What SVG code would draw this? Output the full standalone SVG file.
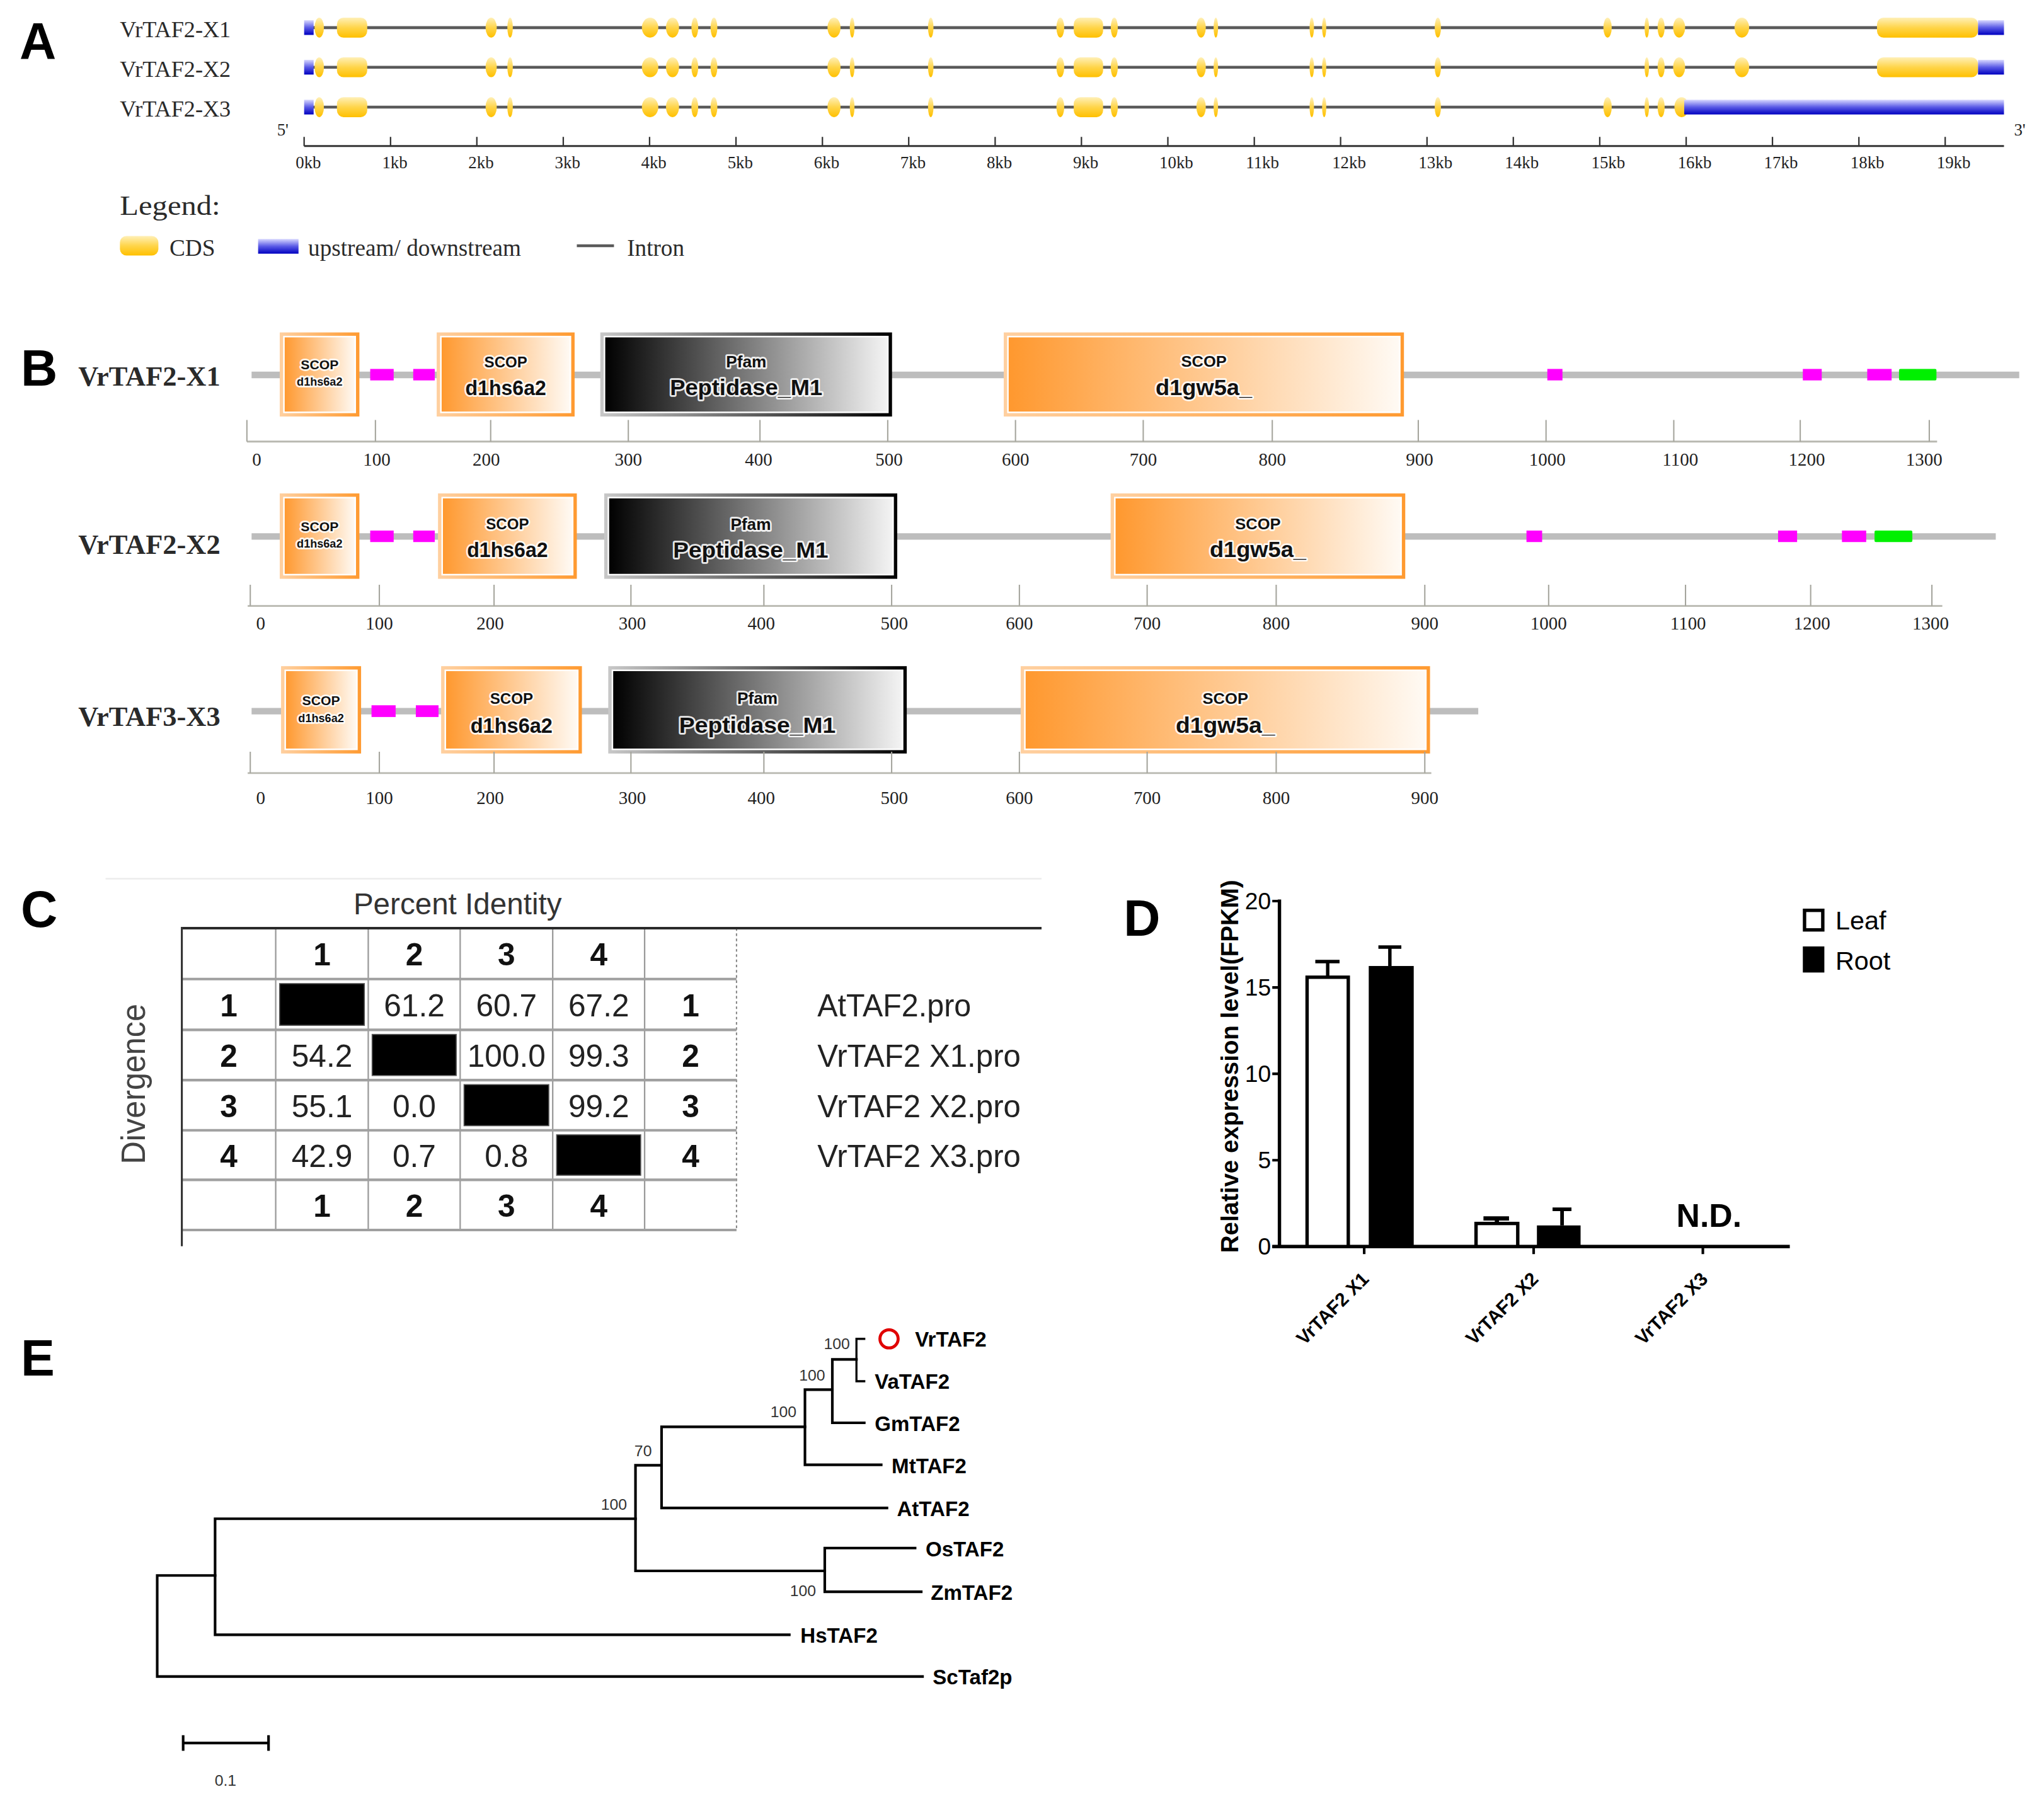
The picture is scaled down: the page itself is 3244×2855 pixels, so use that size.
<svg xmlns="http://www.w3.org/2000/svg" width="3244" height="2855" viewBox="0 0 3244 2855">
<style>
.plab{font-family:"Liberation Sans",Arial,sans-serif;font-weight:bold;font-size:39px;fill:#000;}
.tl{font-family:"Liberation Serif","Times New Roman",serif;fill:#2a2a2a;}
.sl{font-family:"Liberation Sans",Arial,sans-serif;}
.intron{stroke:#5a5a5a;stroke-width:2.2;fill:none;}
.ex{fill:url(#gy);}
.utr{fill:url(#gb);}
.axA{stroke:#333;fill:none;}
.kb{font-family:"Liberation Serif","Times New Roman",serif;font-size:13px;fill:#222;}
.pline{stroke:#bdbdbd;stroke-width:5;fill:none;}
.mg{fill:#ff00ff;}
.gr{fill:#00f000;}
.axB{stroke:#b8b8b0;stroke-width:1.4;fill:none;}
.tkB{stroke:#a5a59d;stroke-width:1;fill:none;}
.numB{font-family:"Liberation Serif","Times New Roman",serif;font-size:14px;fill:#222;text-anchor:middle;}
.dt{font-family:"Liberation Sans",Arial,sans-serif;font-weight:bold;fill:#111;text-anchor:middle;stroke:#fff;stroke-width:2.6;stroke-linejoin:round;paint-order:stroke;stroke-opacity:0.9;}
.gl{stroke:#9a9a9a;stroke-width:1.1;fill:none;}
.gh{stroke:#a0a0a0;stroke-width:2;fill:none;}
.cv{font-family:"Liberation Sans",Arial,sans-serif;font-size:24px;fill:#222;text-anchor:middle;}
.ci{font-family:"Liberation Sans",Arial,sans-serif;font-size:24px;font-weight:bold;fill:#111;text-anchor:middle;}
.cn{font-family:"Liberation Sans",Arial,sans-serif;font-size:24px;fill:#222;}
.blk{fill:#000;stroke:#555;stroke-width:0.8;}
.bk{stroke:#000;fill:none;}
.dl{font-family:"Liberation Sans",Arial,sans-serif;font-size:18px;fill:#000;text-anchor:end;}
.xl{font-family:"Liberation Sans",Arial,sans-serif;font-size:14.5px;font-weight:bold;fill:#000;text-anchor:end;}
.br{stroke:#000;fill:none;stroke-linecap:square;}
.leaf{font-family:"Liberation Sans",Arial,sans-serif;font-size:16px;font-weight:bold;fill:#000;}
.bs{font-family:"Liberation Sans",Arial,sans-serif;font-size:12px;fill:#333;}
</style>
<defs>
<linearGradient id="gy" x1="0" y1="0" x2="0" y2="1"><stop offset="0" stop-color="#fff0b8"/><stop offset="0.5" stop-color="#ffd54a"/><stop offset="1" stop-color="#ffc000"/></linearGradient>
<linearGradient id="gb" x1="0" y1="0" x2="0" y2="1"><stop offset="0" stop-color="#d8d8ff"/><stop offset="0.5" stop-color="#5a5ae6"/><stop offset="1" stop-color="#0000c0"/></linearGradient>
<linearGradient id="ofr" x1="0" y1="0" x2="1" y2="0"><stop offset="0" stop-color="#ffd0a0"/><stop offset="1" stop-color="#ff9a30"/></linearGradient>
<linearGradient id="ofi" x1="0" y1="0" x2="1" y2="0"><stop offset="0" stop-color="#ff982e"/><stop offset="1" stop-color="#fffaf4"/></linearGradient>
<linearGradient id="pfr" x1="0" y1="0" x2="1" y2="0"><stop offset="0" stop-color="#c8c8c8"/><stop offset="1" stop-color="#000"/></linearGradient>
<linearGradient id="pfi" x1="0" y1="0" x2="1" y2="0"><stop offset="0" stop-color="#000"/><stop offset="1" stop-color="#f4f4f4"/></linearGradient>
</defs>
<rect width="3244" height="2855" fill="#fff"/>
<g transform="scale(2.068878)">

<!-- ================= Panel A ================= -->
<g id="panelA">
<text class="plab" x="15" y="45">A</text>
<g id="A-labels" class="tl" font-size="17.5">
<text x="92" y="28.5">VrTAF2-X1</text>
<text x="92" y="59">VrTAF2-X2</text>
<text x="92" y="89.5">VrTAF2-X3</text>
</g>
<g id="A-X1">
<line class="intron" x1="240" y1="21.2" x2="1440" y2="21.2"/>
<rect class="utr" x="233.3" y="15.5" width="7.3" height="11.3"/>
<g class="ex">
<ellipse cx="244.9" cy="21.2" rx="3.6" ry="7.65"/>
<rect x="258.5" y="13.55" width="23.2" height="15.3" rx="5"/>
<ellipse cx="376.8" cy="21.2" rx="4.3" ry="7.65"/>
<ellipse cx="391.3" cy="21.2" rx="2.1" ry="7.65"/>
<ellipse cx="498.7" cy="21.2" rx="6.3" ry="7.65"/>
<ellipse cx="515.9" cy="21.2" rx="5" ry="7.65"/>
<ellipse cx="533" cy="21.2" rx="2.6" ry="7.65"/>
<ellipse cx="547.7" cy="21.2" rx="2.6" ry="7.65"/>
<ellipse cx="639.8" cy="21.2" rx="5" ry="7.65"/>
<ellipse cx="653.7" cy="21.2" rx="1.8" ry="7.65"/>
<ellipse cx="714" cy="21.2" rx="2.1" ry="7.65"/>
<ellipse cx="813.4" cy="21.2" rx="3" ry="7.65"/>
<rect x="823.7" y="13.55" width="22.5" height="15.3" rx="5"/>
<ellipse cx="854.8" cy="21.2" rx="2.7" ry="7.65"/>
<ellipse cx="921.4" cy="21.2" rx="3.6" ry="7.65"/>
<ellipse cx="932.7" cy="21.2" rx="1.7" ry="7.65"/>
<ellipse cx="1006.3" cy="21.2" rx="1.7" ry="7.65"/>
<ellipse cx="1015.8" cy="21.2" rx="1.6" ry="7.65"/>
<ellipse cx="1103" cy="21.2" rx="2.4" ry="7.65"/>
<ellipse cx="1233.2" cy="21.2" rx="3.2" ry="7.65"/>
<ellipse cx="1263.3" cy="21.2" rx="1.7" ry="7.65"/>
<ellipse cx="1274.3" cy="21.2" rx="2.7" ry="7.65"/>
<ellipse cx="1288.1" cy="21.2" rx="4.6" ry="7.65"/>
<ellipse cx="1336.2" cy="21.2" rx="5.6" ry="7.65"/>
<rect x="1439.9" y="13.55" width="77.5" height="15.3" rx="5"/>
</g>
<rect class="utr" x="1517.4" y="15.5" width="19.9" height="11.3"/>
</g>
<g id="A-X2">
<line class="intron" x1="240" y1="51.6" x2="1440" y2="51.6"/>
<rect class="utr" x="233.3" y="45.9" width="7.3" height="11.3"/>
<g class="ex">
<ellipse cx="244.9" cy="51.6" rx="3.6" ry="7.65"/>
<rect x="258.5" y="43.95" width="23.2" height="15.3" rx="5"/>
<ellipse cx="376.8" cy="51.6" rx="4.3" ry="7.65"/>
<ellipse cx="391.3" cy="51.6" rx="2.1" ry="7.65"/>
<ellipse cx="498.7" cy="51.6" rx="6.3" ry="7.65"/>
<ellipse cx="515.9" cy="51.6" rx="5" ry="7.65"/>
<ellipse cx="533" cy="51.6" rx="2.6" ry="7.65"/>
<ellipse cx="547.7" cy="51.6" rx="2.6" ry="7.65"/>
<ellipse cx="639.8" cy="51.6" rx="5" ry="7.65"/>
<ellipse cx="653.7" cy="51.6" rx="1.8" ry="7.65"/>
<ellipse cx="714" cy="51.6" rx="2.1" ry="7.65"/>
<ellipse cx="813.4" cy="51.6" rx="3" ry="7.65"/>
<rect x="823.7" y="43.95" width="22.5" height="15.3" rx="5"/>
<ellipse cx="854.8" cy="51.6" rx="2.7" ry="7.65"/>
<ellipse cx="921.4" cy="51.6" rx="3.6" ry="7.65"/>
<ellipse cx="932.7" cy="51.6" rx="1.7" ry="7.65"/>
<ellipse cx="1006.3" cy="51.6" rx="1.7" ry="7.65"/>
<ellipse cx="1015.8" cy="51.6" rx="1.6" ry="7.65"/>
<ellipse cx="1103" cy="51.6" rx="2.4" ry="7.65"/>
<ellipse cx="1263.3" cy="51.6" rx="1.7" ry="7.65"/>
<ellipse cx="1274.3" cy="51.6" rx="2.7" ry="7.65"/>
<ellipse cx="1288.1" cy="51.6" rx="4.6" ry="7.65"/>
<ellipse cx="1336.2" cy="51.6" rx="5.6" ry="7.65"/>
<rect x="1439.9" y="43.95" width="77.5" height="15.3" rx="5"/>
</g>
<rect class="utr" x="1517.4" y="45.9" width="19.9" height="11.3"/>
</g>
<g id="A-X3">
<line class="intron" x1="240" y1="82.2" x2="1286" y2="82.2"/>
<rect class="utr" x="233.3" y="76.5" width="7.3" height="11.3"/>
<g class="ex">
<ellipse cx="244.9" cy="82.2" rx="3.6" ry="7.65"/>
<rect x="258.5" y="74.55" width="23.2" height="15.3" rx="5"/>
<ellipse cx="376.8" cy="82.2" rx="4.3" ry="7.65"/>
<ellipse cx="391.3" cy="82.2" rx="2.1" ry="7.65"/>
<ellipse cx="498.7" cy="82.2" rx="6.3" ry="7.65"/>
<ellipse cx="515.9" cy="82.2" rx="5" ry="7.65"/>
<ellipse cx="533" cy="82.2" rx="2.6" ry="7.65"/>
<ellipse cx="547.7" cy="82.2" rx="2.6" ry="7.65"/>
<ellipse cx="639.8" cy="82.2" rx="5" ry="7.65"/>
<ellipse cx="653.7" cy="82.2" rx="1.8" ry="7.65"/>
<ellipse cx="714" cy="82.2" rx="2.1" ry="7.65"/>
<ellipse cx="813.4" cy="82.2" rx="3" ry="7.65"/>
<rect x="823.7" y="74.55" width="22.5" height="15.3" rx="5"/>
<ellipse cx="854.8" cy="82.2" rx="2.7" ry="7.65"/>
<ellipse cx="921.4" cy="82.2" rx="3.6" ry="7.65"/>
<ellipse cx="932.7" cy="82.2" rx="1.7" ry="7.65"/>
<ellipse cx="1006.3" cy="82.2" rx="1.7" ry="7.65"/>
<ellipse cx="1015.8" cy="82.2" rx="1.6" ry="7.65"/>
<ellipse cx="1103" cy="82.2" rx="2.4" ry="7.65"/>
<ellipse cx="1233.2" cy="82.2" rx="3.2" ry="7.65"/>
<ellipse cx="1263.3" cy="82.2" rx="1.7" ry="7.65"/>
<ellipse cx="1274.3" cy="82.2" rx="2.7" ry="7.65"/>
<ellipse cx="1290" cy="82.2" rx="5.5" ry="7.65"/>
</g>
<rect class="utr" x="1292" y="76.5" width="245.3" height="11.3"/>
</g>
<g id="A-axis">
<line class="axA" style="stroke-width:1.4" x1="233.3" y1="112" x2="1537.3" y2="112"/>
<path class="axA" style="stroke-width:1.1" d="M233.3 105V112M299.6 105V112M365.8 105V112M432.1 105V112M498.3 105V112M564.6 105V112M630.9 105V112M697.1 105V112M763.4 105V112M829.6 105V112M895.9 105V112M962.2 105V112M1028.4 105V112M1094.7 105V112M1160.9 105V112M1227.2 105V112M1293.5 105V112M1359.7 105V112M1426 105V112M1492.2 105V112"/>
<g class="kb">
<text x="226.8" y="129">0kb</text><text x="293.1" y="129">1kb</text><text x="359.3" y="129">2kb</text><text x="425.6" y="129">3kb</text><text x="491.8" y="129">4kb</text><text x="558.1" y="129">5kb</text><text x="624.4" y="129">6kb</text><text x="690.6" y="129">7kb</text><text x="756.9" y="129">8kb</text><text x="823.1" y="129">9kb</text><text x="889.4" y="129">10kb</text><text x="955.7" y="129">11kb</text><text x="1021.9" y="129">12kb</text><text x="1088.2" y="129">13kb</text><text x="1154.4" y="129">14kb</text><text x="1220.7" y="129">15kb</text><text x="1287" y="129">16kb</text><text x="1353.2" y="129">17kb</text><text x="1419.5" y="129">18kb</text><text x="1485.7" y="129">19kb</text>
</g>
<text class="kb" x="212.5" y="104">5'</text>
<text class="kb" x="1545" y="104">3'</text>
</g>
<g id="A-legend" class="tl">
<text x="92" y="165" font-size="21" textLength="77" lengthAdjust="spacingAndGlyphs">Legend:</text>
<rect class="ex" x="92" y="181" width="29.5" height="15" rx="5"/>
<text x="130" y="196" font-size="18">CDS</text>
<rect class="utr" x="198" y="183.3" width="31" height="11.3"/>
<text x="236.4" y="196" font-size="18">upstream/ downstream</text>
<line class="intron" x1="442.5" y1="188.5" x2="471" y2="188.5"/>
<text x="481" y="196" font-size="18">Intron</text>
</g>
</g>

<!-- ================= Panel B ================= -->
<g id="panelB">
<text class="plab" x="16" y="296">B</text>
<g id="B-labels" class="tl" font-size="21.5" font-weight="bold" fill="#000">
<text x="60" y="296">VrTAF2-X1</text>
<text x="60" y="425">VrTAF2-X2</text>
<text x="60" y="557">VrTAF3-X3</text>
</g>

<g id="B-X1">
<line class="pline" x1="193" y1="287.6" x2="1549" y2="287.6"/>
<g id="B1-scop1"><rect x="214.6" y="255" width="61.1" height="64.5" fill="url(#ofr)"/><rect x="217.8" y="258.2" width="54.7" height="58.1" fill="url(#ofi)" stroke="#fff" stroke-width="1.2"/>
<text class="dt" x="245.2" y="283.3" font-size="10" textLength="29" lengthAdjust="spacingAndGlyphs">SCOP</text><text class="dt" x="245.2" y="296" font-size="8.5" textLength="35" lengthAdjust="spacingAndGlyphs">d1hs6a2</text></g>
<rect class="mg" x="284" y="283" width="18" height="8.8"/>
<rect class="mg" x="317" y="283" width="16.5" height="8.8"/>
<g id="B1-scop2"><rect x="335" y="255" width="105.8" height="64.5" fill="url(#ofr)"/><rect x="338.2" y="258.2" width="99.4" height="58.1" fill="url(#ofi)" stroke="#fff" stroke-width="1.2"/>
<text class="dt" x="388" y="282" font-size="11.5" textLength="33" lengthAdjust="spacingAndGlyphs">SCOP</text><text class="dt" x="388" y="303" font-size="16" textLength="62" lengthAdjust="spacingAndGlyphs">d1hs6a2</text></g>
<g id="B1-pfam"><rect x="460.5" y="255" width="223.8" height="64.5" fill="url(#pfr)"/><rect x="463.7" y="258.2" width="217.4" height="58.1" fill="url(#pfi)" stroke="#fff" stroke-width="1.2"/>
<text class="dt" x="572.4" y="282" font-size="12.5" textLength="31" lengthAdjust="spacingAndGlyphs">Pfam</text><text class="dt" x="572.4" y="303" font-size="17" textLength="117" lengthAdjust="spacingAndGlyphs">Peptidase_M1</text></g>
<g id="B1-scop3"><rect x="770" y="255" width="307" height="64.5" fill="url(#ofr)"/><rect x="773.2" y="258.2" width="300.6" height="58.1" fill="url(#ofi)" stroke="#fff" stroke-width="1.2"/>
<text class="dt" x="923.5" y="281.5" font-size="12" textLength="35" lengthAdjust="spacingAndGlyphs">SCOP</text><text class="dt" x="923.5" y="303" font-size="17" textLength="74" lengthAdjust="spacingAndGlyphs">d1gw5a_</text></g>
<rect class="mg" x="1187" y="283" width="11.6" height="8.8"/>
<rect class="mg" x="1383" y="283" width="14.5" height="8.8"/>
<rect class="mg" x="1432.4" y="283" width="18.7" height="8.8"/>
<rect class="gr" x="1456.8" y="283" width="28.7" height="8.8" rx="1"/>
<g id="B1-axis">
<line class="axB" x1="189.4" y1="338.7" x2="1486" y2="338.7"/>
<path class="tkB" d="M189.4 322.2V338.7M288 322.2V338.7M376.4 322.2V338.7M482 322.2V338.7M583 322.2V338.7M681 322.2V338.7M779 322.2V338.7M877 322.2V338.7M976 322.2V338.7M1088 322.2V338.7M1186 322.2V338.7M1284 322.2V338.7M1381 322.2V338.7M1480 322.2V338.7"/>
<text class="numB" x="197" y="357">0</text><text class="numB" x="289" y="357">100</text><text class="numB" x="373" y="357">200</text><text class="numB" x="482" y="357">300</text><text class="numB" x="582" y="357">400</text><text class="numB" x="682" y="357">500</text><text class="numB" x="779" y="357">600</text><text class="numB" x="877" y="357">700</text><text class="numB" x="976" y="357">800</text><text class="numB" x="1089" y="357">900</text><text class="numB" x="1187" y="357">1000</text><text class="numB" x="1289" y="357">1100</text><text class="numB" x="1386" y="357">1200</text><text class="numB" x="1476" y="357">1300</text>
</g>
</g>

<g id="B-X2">
<line class="pline" x1="193" y1="411.5" x2="1531" y2="411.5"/>
<g id="B2-scop1"><rect x="214.6" y="378.5" width="61.1" height="65.5" fill="url(#ofr)"/><rect x="217.8" y="381.7" width="54.7" height="59.1" fill="url(#ofi)" stroke="#fff" stroke-width="1.2"/>
<text class="dt" x="245.2" y="407.5" font-size="10" textLength="29" lengthAdjust="spacingAndGlyphs">SCOP</text><text class="dt" x="245.2" y="420" font-size="8.5" textLength="35" lengthAdjust="spacingAndGlyphs">d1hs6a2</text></g>
<rect class="mg" x="284" y="407" width="18" height="8.8"/>
<rect class="mg" x="317" y="407" width="16.5" height="8.8"/>
<g id="B2-scop2"><rect x="336" y="378.5" width="106.5" height="65.5" fill="url(#ofr)"/><rect x="339.2" y="381.7" width="100.1" height="59.1" fill="url(#ofi)" stroke="#fff" stroke-width="1.2"/>
<text class="dt" x="389.3" y="406" font-size="11.5" textLength="33" lengthAdjust="spacingAndGlyphs">SCOP</text><text class="dt" x="389.3" y="427.5" font-size="16" textLength="62" lengthAdjust="spacingAndGlyphs">d1hs6a2</text></g>
<g id="B2-pfam"><rect x="463.5" y="378.5" width="224.8" height="65.5" fill="url(#pfr)"/><rect x="466.7" y="381.7" width="218.4" height="59.1" fill="url(#pfi)" stroke="#fff" stroke-width="1.2"/>
<text class="dt" x="575.9" y="406.5" font-size="12.5" textLength="31" lengthAdjust="spacingAndGlyphs">Pfam</text><text class="dt" x="575.9" y="428" font-size="17" textLength="119" lengthAdjust="spacingAndGlyphs">Peptidase_M1</text></g>
<g id="B2-scop3"><rect x="852" y="378.5" width="226" height="65.5" fill="url(#ofr)"/><rect x="855.2" y="381.7" width="219.6" height="59.1" fill="url(#ofi)" stroke="#fff" stroke-width="1.2"/>
<text class="dt" x="965" y="406" font-size="12" textLength="35" lengthAdjust="spacingAndGlyphs">SCOP</text><text class="dt" x="965" y="427.5" font-size="17" textLength="74" lengthAdjust="spacingAndGlyphs">d1gw5a_</text></g>
<rect class="mg" x="1171" y="407" width="12" height="8.8"/>
<rect class="mg" x="1364" y="407" width="14.6" height="8.8"/>
<rect class="mg" x="1413" y="407" width="18.6" height="8.8"/>
<rect class="gr" x="1438" y="407" width="29" height="8.8" rx="1"/>
<g id="B2-axis">
<line class="axB" x1="190" y1="464.8" x2="1490" y2="464.8"/>
<path class="tkB" d="M192 448.6V464.8M291 448.6V464.8M379 448.6V464.8M484 448.6V464.8M586 448.6V464.8M684 448.6V464.8M782 448.6V464.8M880 448.6V464.8M979 448.6V464.8M1093 448.6V464.8M1188 448.6V464.8M1293 448.6V464.8M1389 448.6V464.8M1482 448.6V464.8"/>
<text class="numB" x="200" y="483">0</text><text class="numB" x="291" y="483">100</text><text class="numB" x="376" y="483">200</text><text class="numB" x="485" y="483">300</text><text class="numB" x="584" y="483">400</text><text class="numB" x="686" y="483">500</text><text class="numB" x="782" y="483">600</text><text class="numB" x="880" y="483">700</text><text class="numB" x="979" y="483">800</text><text class="numB" x="1093" y="483">900</text><text class="numB" x="1188" y="483">1000</text><text class="numB" x="1295" y="483">1100</text><text class="numB" x="1390" y="483">1200</text><text class="numB" x="1481" y="483">1300</text>
</g>
</g>

<g id="B-X3">
<line class="pline" x1="193" y1="545.5" x2="1134" y2="545.5"/>
<g id="B3-scop1"><rect x="215.6" y="511" width="61.4" height="67" fill="url(#ofr)"/><rect x="218.8" y="514.2" width="55" height="60.6" fill="url(#ofi)" stroke="#fff" stroke-width="1.2"/>
<text class="dt" x="246.3" y="541" font-size="10" textLength="29" lengthAdjust="spacingAndGlyphs">SCOP</text><text class="dt" x="246.3" y="554" font-size="8.5" textLength="35" lengthAdjust="spacingAndGlyphs">d1hs6a2</text></g>
<rect class="mg" x="285" y="541" width="18.5" height="9"/>
<rect class="mg" x="319" y="541" width="17.4" height="9"/>
<g id="B3-scop2"><rect x="338.4" y="511" width="108" height="67" fill="url(#ofr)"/><rect x="341.6" y="514.2" width="101.6" height="60.6" fill="url(#ofi)" stroke="#fff" stroke-width="1.2"/>
<text class="dt" x="392.4" y="540" font-size="11.5" textLength="33" lengthAdjust="spacingAndGlyphs">SCOP</text><text class="dt" x="392.4" y="562" font-size="16" textLength="63" lengthAdjust="spacingAndGlyphs">d1hs6a2</text></g>
<g id="B3-pfam"><rect x="466.6" y="511" width="229" height="67" fill="url(#pfr)"/><rect x="469.8" y="514.2" width="222.6" height="60.6" fill="url(#pfi)" stroke="#fff" stroke-width="1.2"/>
<text class="dt" x="581" y="540" font-size="12.5" textLength="31" lengthAdjust="spacingAndGlyphs">Pfam</text><text class="dt" x="581" y="562" font-size="17" textLength="120" lengthAdjust="spacingAndGlyphs">Peptidase_M1</text></g>
<g id="B3-scop3"><rect x="783" y="511" width="314" height="67" fill="url(#ofr)"/><rect x="786.2" y="514.2" width="307.6" height="60.6" fill="url(#ofi)" stroke="#fff" stroke-width="1.2"/>
<text class="dt" x="940" y="540" font-size="12" textLength="35" lengthAdjust="spacingAndGlyphs">SCOP</text><text class="dt" x="940" y="562" font-size="17" textLength="76" lengthAdjust="spacingAndGlyphs">d1gw5a_</text></g>
<g id="B3-axis">
<line class="axB" x1="190" y1="593" x2="1098" y2="593"/>
<path class="tkB" d="M192 576.7V593M291 576.7V593M379 576.7V593M484 576.7V593M586 576.7V593M684 576.7V593M782 576.7V593M880 576.7V593M979 576.7V593M1093 576.7V593"/>
<text class="numB" x="200" y="617">0</text><text class="numB" x="291" y="617">100</text><text class="numB" x="376" y="617">200</text><text class="numB" x="485" y="617">300</text><text class="numB" x="584" y="617">400</text><text class="numB" x="686" y="617">500</text><text class="numB" x="782" y="617">600</text><text class="numB" x="880" y="617">700</text><text class="numB" x="979" y="617">800</text><text class="numB" x="1093" y="617">900</text>
</g>
</g>
</g>

<!-- ================= Panel C ================= -->
<g id="panelC">
<text class="plab" x="16" y="711">C</text>
<line x1="81" y1="674" x2="799" y2="674" stroke="#ececec" stroke-width="1.2"/>
<text class="sl" x="351" y="701.5" font-size="23" fill="#333" text-anchor="middle">Percent Identity</text>
<text class="sl" transform="translate(111,831.5) rotate(-90)" font-size="26" fill="#444" text-anchor="middle" textLength="123" lengthAdjust="spacingAndGlyphs">Divergence</text>
<g id="C-grid">
<path class="gl" d="M211.5 712V943.5M282.5 712V943.5M353 712V943.5M424 712V943.5M494.5 712V943.5"/>
<path d="M565 712V943.5" stroke="#888" stroke-width="1" stroke-dasharray="2 2" fill="none"/>
<path class="gh" d="M139.5 751H565M139.5 790H565M139.5 828.5H565M139.5 867H565M139.5 905H565M139.5 943.5H565"/>
<line x1="139" y1="712" x2="799" y2="712" stroke="#2a2a2a" stroke-width="2"/>
<line x1="139.5" y1="711" x2="139.5" y2="956" stroke="#333" stroke-width="1.5"/>
</g>
<rect class="blk" x="214.5" y="754.5" width="65" height="32"/>
<rect class="blk" x="285.5" y="793.5" width="64.5" height="31.5"/>
<rect class="blk" x="356" y="832" width="65" height="31.5"/>
<rect class="blk" x="427" y="870.5" width="64.5" height="31"/>
<g id="C-idx">
<text class="ci" x="247" y="740.5">1</text><text class="ci" x="317.8" y="740.5">2</text><text class="ci" x="388.5" y="740.5">3</text><text class="ci" x="459.3" y="740.5">4</text>
<text class="ci" x="175.5" y="779.5">1</text><text class="ci" x="175.5" y="818.3">2</text><text class="ci" x="175.5" y="856.8">3</text><text class="ci" x="175.5" y="895">4</text>
<text class="ci" x="529.8" y="779.5">1</text><text class="ci" x="529.8" y="818.3">2</text><text class="ci" x="529.8" y="856.8">3</text><text class="ci" x="529.8" y="895">4</text>
<text class="ci" x="247" y="933.3">1</text><text class="ci" x="317.8" y="933.3">2</text><text class="ci" x="388.5" y="933.3">3</text><text class="ci" x="459.3" y="933.3">4</text>
</g>
<g id="C-values">
<text class="cv" x="317.8" y="779.5">61.2</text><text class="cv" x="388.5" y="779.5">60.7</text><text class="cv" x="459.3" y="779.5">67.2</text>
<text class="cv" x="247" y="818.3">54.2</text><text class="cv" x="388.5" y="818.3">100.0</text><text class="cv" x="459.3" y="818.3">99.3</text>
<text class="cv" x="247" y="856.8">55.1</text><text class="cv" x="317.8" y="856.8">0.0</text><text class="cv" x="459.3" y="856.8">99.2</text>
<text class="cv" x="247" y="895">42.9</text><text class="cv" x="317.8" y="895">0.7</text><text class="cv" x="388.5" y="895">0.8</text>
</g>
<g id="C-names">
<text class="cn" x="627" y="779.5" textLength="118" lengthAdjust="spacingAndGlyphs">AtTAF2.pro</text>
<text class="cn" x="627" y="818.3" textLength="156" lengthAdjust="spacingAndGlyphs">VrTAF2 X1.pro</text>
<text class="cn" x="627" y="856.8" textLength="156" lengthAdjust="spacingAndGlyphs">VrTAF2 X2.pro</text>
<text class="cn" x="627" y="895" textLength="156" lengthAdjust="spacingAndGlyphs">VrTAF2 X3.pro</text>
</g>
</g>

<!-- ================= Panel D ================= -->
<g id="panelD">
<text class="plab" x="862" y="718">D</text>
<text class="sl" transform="translate(950,818) rotate(-90)" font-size="18.5" font-weight="bold" fill="#000" text-anchor="middle" textLength="286" lengthAdjust="spacingAndGlyphs">Relative expression level(FPKM)</text>
<g id="D-axes">
<path class="bk" style="stroke-width:2.6" d="M981.5 690V956.2"/>
<path class="bk" style="stroke-width:2" d="M976 691.2H981.5M976 757.5H981.5M976 823.7H981.5M976 890H981.5M976 956.2H981.5"/>
<path class="bk" style="stroke-width:2.6" d="M976 956.2H1373"/>
<path class="bk" style="stroke-width:2" d="M1046.5 956.2V962M1176.5 956.2V962M1306.3 956.2V962"/>
<text class="dl" x="975" y="697.5">20</text><text class="dl" x="975" y="763.8">15</text><text class="dl" x="975" y="830">10</text><text class="dl" x="975" y="896.3">5</text><text class="dl" x="975" y="962.5">0</text>
</g>
<g id="D-bars">
<rect x="1002.7" y="749.6" width="31.6" height="206.6" fill="#fff" stroke="#000" stroke-width="2.6"/>
<path class="bk" style="stroke-width:2.6" d="M1018.5 749.6V737.6M1009 737.6H1027.6"/>
<rect x="1050" y="741" width="34.5" height="215.2" fill="#000"/>
<path class="bk" style="stroke-width:2.6" d="M1066.2 741V726.5M1057.4 726.5H1075"/>
<rect x="1132.3" y="938.5" width="32" height="17.7" fill="#fff" stroke="#000" stroke-width="2.6"/>
<path class="bk" style="stroke-width:3.2" d="M1148.3 938.5V934.6M1138 934.6H1157.6"/>
<rect x="1179" y="940" width="33.5" height="16.2" fill="#000"/>
<path class="bk" style="stroke-width:2.8" d="M1198.3 940V927.6M1191 927.6H1205.5"/>
</g>
<text class="sl" x="1311" y="941" font-size="25" font-weight="bold" text-anchor="middle" textLength="50" lengthAdjust="spacingAndGlyphs">N.D.</text>
<g id="D-xlabels">
<text class="xl" transform="translate(1051,982) rotate(-45)">VrTAF2 X1</text>
<text class="xl" transform="translate(1181,982) rotate(-45)">VrTAF2 X2</text>
<text class="xl" transform="translate(1311,982) rotate(-45)">VrTAF2 X3</text>
</g>
<g id="D-legend">
<rect x="1384.3" y="698.3" width="14" height="15" fill="#fff" stroke="#000" stroke-width="2.6"/>
<text class="sl" x="1408" y="713" font-size="20">Leaf</text>
<rect x="1383" y="726" width="16.5" height="20" fill="#000"/>
<text class="sl" x="1408" y="744" font-size="20">Root</text>
</g>
</g>

<!-- ================= Panel E ================= -->
<g id="panelE">
<text class="plab" x="16" y="1055">E</text>
<g id="E-branches" style="stroke-width:2">
<path class="br" style="stroke-width:2" d="M120.6 1208.5V1286H707.7M120.6 1208.5H165"/>
<path class="br" style="stroke-width:2" d="M165 1165V1254H605.5M165 1165H487.5"/>
<path class="br" style="stroke-width:2" d="M487.5 1124V1205H632.7M487.5 1124H507.5"/>
<path class="br" style="stroke-width:2" d="M632.7 1187.5V1221M632.7 1187.5H702M632.7 1221H706.7"/>
<path class="br" style="stroke-width:2" d="M507.5 1094.5V1156.7H680.4M507.5 1094.5H617.5"/>
<path class="br" style="stroke-width:2" d="M617.5 1066V1123.6H676M617.5 1066H638.5"/>
<path class="br" style="stroke-width:2" d="M638.5 1042.8V1091.4H663M638.5 1042.8H657"/>
<path class="br" style="stroke-width:1.6" d="M657 1027V1059.5M657 1027H663M657 1059.5H663"/>
</g>
<g id="E-bootstrap" class="bs" style="text-anchor:end">
<text x="652" y="1035">100</text>
<text x="633" y="1059">100</text>
<text x="611" y="1087">100</text>
<text x="500" y="1117">70</text>
<text x="481" y="1158">100</text>
<text x="626" y="1224.5">100</text>
</g>
<circle id="E-mark" cx="682" cy="1027" r="7" fill="none" stroke="#e00000" stroke-width="2.3"/>
<g id="E-leaves" class="leaf">
<text id="leaf-VrTAF2" x="702" y="1033">VrTAF2</text>
<text id="leaf-VaTAF2" x="671" y="1065.5">VaTAF2</text>
<text id="leaf-GmTAF2" x="671" y="1097.5">GmTAF2</text>
<text id="leaf-MtTAF2" x="684" y="1130">MtTAF2</text>
<text id="leaf-AtTAF2" x="688" y="1163">AtTAF2</text>
<text id="leaf-OsTAF2" x="710" y="1194">OsTAF2</text>
<text id="leaf-ZmTAF2" x="714" y="1227">ZmTAF2</text>
<text id="leaf-HsTAF2" x="614" y="1260">HsTAF2</text>
<text id="leaf-ScTaf2p" x="715.5" y="1292">ScTaf2p</text>
</g>
<g id="E-scale">
<path class="br" style="stroke-width:2" d="M140.5 1337H206M140.5 1332V1342M206 1332V1342"/>
<text class="bs" style="text-anchor:middle" x="173" y="1370">0.1</text>
</g>
</g>
</g>
</svg>
